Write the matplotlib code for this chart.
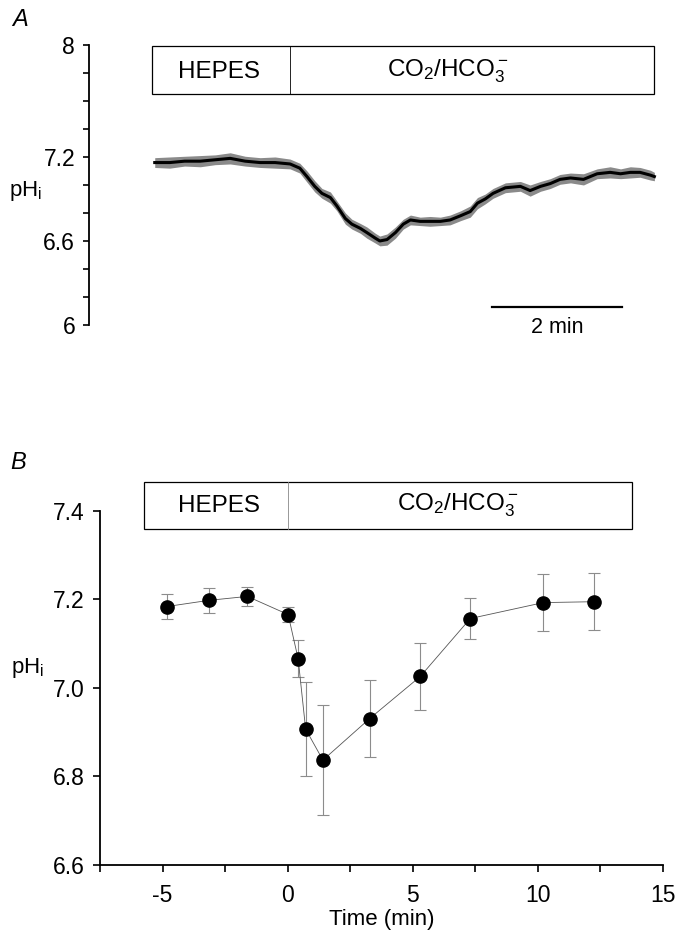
import numpy as np
import matplotlib
matplotlib.use("Agg")
import matplotlib.pyplot as plt
from matplotlib.patches import Rectangle

plt.rcParams['font.family'] = ['Liberation Sans', 'DejaVu Sans']
plt.rcParams['mathtext.default'] = 'regular'

# panel A: single trace, time in min (0 = switch to CO2/HCO3-)
trace_t = [-2.08, -1.85, -1.62, -1.38, -1.15, -0.92, -0.69, -0.46, -0.23, 0.0,
           0.15, 0.26, 0.38, 0.49, 0.62, 0.72, 0.85, 0.95, 1.08, 1.18,
           1.31, 1.38, 1.49, 1.62, 1.74, 1.85, 2.0, 2.15, 2.31, 2.46,
           2.62, 2.77, 2.88, 3.0, 3.12, 3.31, 3.54, 3.69, 3.85, 4.0,
           4.15, 4.31, 4.51, 4.72, 4.92, 5.08, 5.23, 5.38, 5.54, 5.6]
trace_ph = [7.16, 7.16, 7.17, 7.17, 7.18, 7.19, 7.17, 7.16, 7.16, 7.15,
            7.12, 7.06, 6.99, 6.94, 6.91, 6.85, 6.76, 6.72, 6.69, 6.66,
            6.62, 6.60, 6.61, 6.66, 6.72, 6.75, 6.74, 6.74, 6.74, 6.75,
            6.78, 6.81, 6.87, 6.90, 6.94, 6.98, 6.99, 6.96, 6.99, 7.01,
            7.04, 7.05, 7.04, 7.08, 7.09, 7.08, 7.09, 7.09, 7.07, 7.06]
# half width of the noise band around the trace
trace_noise = [0.035, 0.04, 0.035, 0.04, 0.035, 0.04, 0.035, 0.035, 0.04, 0.035,
               0.035, 0.04, 0.04, 0.035, 0.04, 0.035, 0.04, 0.035, 0.035, 0.04,
               0.035, 0.035, 0.04, 0.04, 0.035, 0.035, 0.03, 0.035, 0.03, 0.035,
               0.035, 0.04, 0.04, 0.035, 0.035, 0.035, 0.035, 0.04, 0.035, 0.035,
               0.035, 0.035, 0.04, 0.035, 0.04, 0.035, 0.04, 0.035, 0.035, 0.03]

# panel B: mean +/- error
t_b = [-4.84, -3.16, -1.61, 0.02, 0.42, 0.72, 1.41, 3.28, 5.3, 7.3, 10.22, 12.23]
ph_b = [7.184, 7.198, 7.207, 7.166, 7.066, 6.907, 6.837, 6.931, 7.026, 7.157, 7.193, 7.195]
err_b = [0.028, 0.029, 0.022, 0.017, 0.042, 0.106, 0.125, 0.087, 0.075, 0.047, 0.064, 0.065]

fig = plt.figure(figsize=(6.76, 9.33), dpi=100)

# ---------- A ----------
axA = fig.add_axes([0.1317, 0.6517, 0.845, 0.3001])
low = [p - n for p, n in zip(trace_ph, trace_noise)]
high = [p + n for p, n in zip(trace_ph, trace_noise)]
axA.fill_between(trace_t, low, high, color='#8a8a8a', lw=0)
axA.plot(trace_t, trace_ph, color='black', lw=2.2)
axA.set_xlim(-3.09, 5.69)
axA.set_ylim(6, 8)
for s in ['top', 'right', 'bottom']:
    axA.spines[s].set_visible(False)
axA.spines['left'].set_linewidth(1.3)
yt = np.round(np.arange(6, 8.01, 0.2), 1)
axA.set_yticks(yt)
axA.set_yticklabels(['6' if v == 6 else '8' if v == 8 else str(v) if v in (6.6, 7.2) else '' for v in yt],
                    fontsize=16.5)
axA.tick_params(axis='y', length=4, width=1.2, pad=6)
axA.set_xticks([])
axA.text(-4.06, 6.96, 'pH$_i$', fontsize=16, ha='center', va='center')
axA.text(-4.15, 8.18, 'A', fontsize=17, style='italic', ha='center', va='center')

# solution box
axA.add_patch(Rectangle((-2.12, 7.65), 2.13 + 5.58, 0.34, fill=False, lw=0.9, clip_on=False))
axA.plot([0.0, 0.0], [7.65, 7.99], color='black', lw=0.6, clip_on=False)
axA.text(-1.09, 7.81, 'HEPES', fontsize=17.5, ha='center', va='center')
axA.text(2.43, 7.81, 'CO$_2$/HCO$_3^-$', fontsize=17.5, ha='center', va='center')

# scale bar
axA.plot([3.1, 5.1], [6.13, 6.13], color='black', lw=1.6, clip_on=False)
axA.text(4.1, 5.98, '2 min', fontsize=15.5, ha='center', va='center')

# ---------- B ----------
axB = fig.add_axes([0.1479, 0.0729, 0.8328, 0.3794])
axB.errorbar(t_b, ph_b, yerr=err_b, fmt='none', ecolor='#8c8c8c', elinewidth=0.8,
             capsize=4, capthick=0.8)
axB.plot(t_b, ph_b, color='#555555', lw=0.6)
axB.plot(t_b, ph_b, 'o', color='black', markersize=9.5)
axB.set_xlim(-7.5, 15)
axB.set_ylim(6.6, 7.4)
for s in ['top', 'right']:
    axB.spines[s].set_visible(False)
axB.spines['left'].set_linewidth(1.3)
axB.spines['bottom'].set_linewidth(1.3)
xt = np.arange(-7.5, 15.1, 2.5)
axB.set_xticks(xt)
axB.set_xticklabels(['' if v % 5 else str(int(v)) for v in xt], fontsize=16.5)
axB.set_yticks([6.6, 6.8, 7.0, 7.2, 7.4])
axB.set_yticklabels(['6.6', '6.8', '7.0', '7.2', '7.4'], fontsize=16.5)
axB.tick_params(length=5, width=1.2)
axB.tick_params(axis='y', pad=6)
axB.tick_params(axis='x', pad=9)
axB.set_xlabel('Time (min)', fontsize=16, labelpad=1)
axB.text(-10.4, 7.045, 'pH$_i$', fontsize=16, ha='center', va='center')
axB.text(-10.77, 7.51, 'B', fontsize=17, style='italic', ha='center', va='center')

axB.add_patch(Rectangle((-5.73, 7.359), 5.73 + 13.76, 0.107, fill=False, lw=0.9, clip_on=False))
axB.plot([0.0, 0.0], [7.359, 7.466], color='#888888', lw=0.6, clip_on=False)
axB.text(-2.73, 7.412, 'HEPES', fontsize=17.5, ha='center', va='center')
axB.text(6.82, 7.412, 'CO$_2$/HCO$_3^-$', fontsize=17.5, ha='center', va='center')

fig.savefig('out.png', dpi=100)
